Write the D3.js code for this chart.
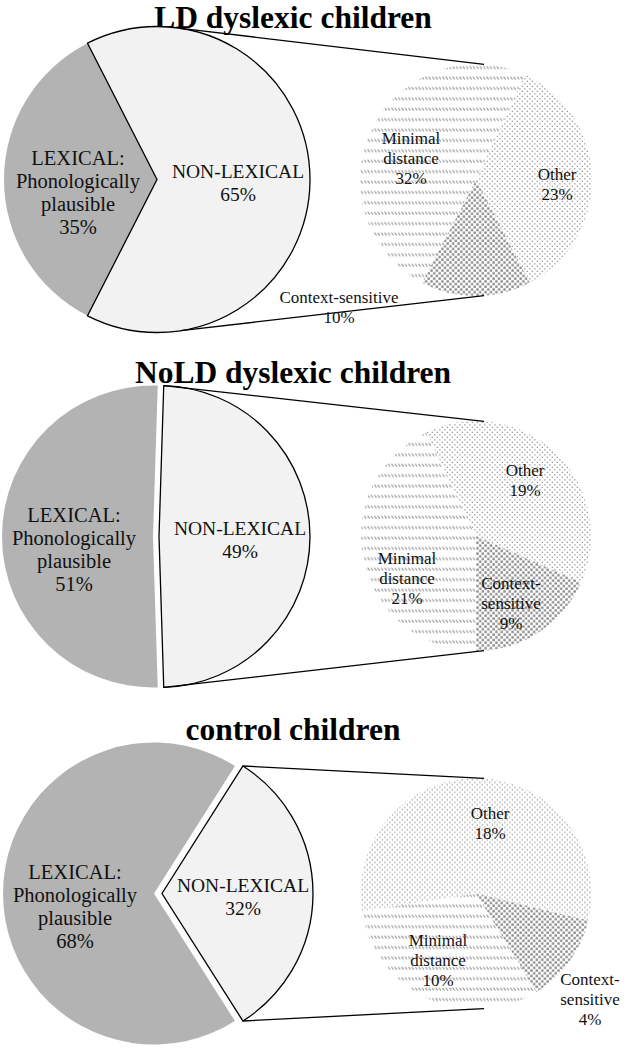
<!DOCTYPE html>
<html><head><meta charset="utf-8">
<script src="https://cdn.jsdelivr.net/npm/d3@7"></script>
<style>body{margin:0;background:#fff} svg{display:block}</style>
</head><body>
<svg id="chart" width="630" height="1048"></svg>
<script>
// ---------------- data ----------------
const groups = ["LD dyslexic children", "NoLD dyslexic children", "control children"];
const nonLexicalLabel = "NON-LEXICAL";
const lexicalLabel = ["LEXICAL:", "Phonologically", "plausible"];
const nonLexical = [65, 49, 32];
const lexical = [35, 51, 68];
const subCategories = ["Other", "Context-sensitive", "Minimal distance"];
const otherVals = [23, 19, 18];
const contextVals = [10, 9, 4];
const minimalVals = [32, 21, 10];

// ---------------- layout (positions only) ----------------
const panels = [
  {titleY: 28, big: {cx: 157, cy: 179.5, r: 153, explode: 0, conn: [9, 171]},
   small: {cx: 476, cy: 180, r: 116, start: 25},
   lab: {md: [-65, -42], other: [81, -6], cs: [-137, 117]}, csWrap: false},
  {titleY: 383, big: {cx: 153, cy: 536.5, r: 151, explode: 6, conn: null},
   small: {cx: 476, cy: 536, r: 115, start: -25.7},
   lab: {md: [-69, 22], other: [49, -66], cs: [35, 47]}, csWrap: true},
  {titleY: 740, big: {cx: 154, cy: 893.5, r: 151, explode: 8, conn: null},
   small: {cx: 476, cy: 893.5, r: 115.5, start: -99},
   lab: {md: [-38, 47], other: [14, -80], cs: [114, 86]}, csWrap: true}
];

const svg = d3.select("#chart");
const FONT = "'Liberation Serif', 'Times New Roman', serif";
const rad = d => d * Math.PI / 180;

// ---------------- patterns ----------------
const defs = svg.append("defs");
const pOther = defs.append("pattern").attr("id", "pOther").attr("patternUnits", "userSpaceOnUse")
  .attr("width", 5).attr("height", 5);
pOther.append("rect").attr("width", 5).attr("height", 5).attr("fill", "#fff");
pOther.append("rect").attr("x", 0.7).attr("y", 0.7).attr("width", 1.3).attr("height", 1.3).attr("fill", "#999");
pOther.append("rect").attr("x", 3.2).attr("y", 3.2).attr("width", 1.3).attr("height", 1.3).attr("fill", "#999");

const pCS = defs.append("pattern").attr("id", "pCS").attr("patternUnits", "userSpaceOnUse")
  .attr("width", 5.4).attr("height", 5.4);
pCS.append("rect").attr("width", 5.4).attr("height", 5.4).attr("fill", "#fff");
pCS.append("rect").attr("x", 0.3).attr("y", 0.3).attr("width", 2.3).attr("height", 2.3).attr("fill", "#858585");
pCS.append("rect").attr("x", 3.0).attr("y", 3.0).attr("width", 2.3).attr("height", 2.3).attr("fill", "#858585");

const pMD = defs.append("pattern").attr("id", "pMD").attr("patternUnits", "userSpaceOnUse")
  .attr("width", 3.4).attr("height", 10.4);
pMD.append("rect").attr("width", 3.4).attr("height", 10.4).attr("fill", "#fff");
pMD.append("path").attr("d", "M0.4,0.6 L2.4,3.4").attr("stroke", "#999").attr("stroke-width", 1.1).attr("fill", "none");

const subFills = ["url(#pOther)", "url(#pCS)", "url(#pMD)"];

// ---------------- drawing ----------------
function addLines(g, x, yCenters, lines, fs) {
  lines.forEach((t, k) => {
    g.append("text").attr("x", x).attr("y", yCenters[k] + fs * 0.33)
      .attr("text-anchor", "middle").attr("font-family", FONT).attr("font-size", fs)
      .attr("fill", "#111").text(t);
  });
}

groups.forEach((name, i) => {
  const L = panels[i];
  const g = svg.append("g");

  // title
  g.append("text").attr("x", 293).attr("y", L.titleY).attr("text-anchor", "middle")
    .attr("font-family", FONT).attr("font-weight", "bold").attr("font-size", 31.5)
    .attr("fill", "#000").text(name);

  // ---- big pie ----
  const B = L.big;
  const nl = nonLexical[i] / (nonLexical[i] + lexical[i]);
  const a0 = Math.PI / 2 - Math.PI * nl;
  const bigPie = d3.pie().sort(null).value(d => d.value).startAngle(a0).endAngle(a0 + 2 * Math.PI);
  const bigArcs = bigPie([{key: "non", value: nonLexical[i]}, {key: "lex", value: lexical[i]}]);
  const bigArc = d3.arc().innerRadius(0).outerRadius(B.r);

  g.append("path").attr("d", bigArc(bigArcs[1]))
    .attr("transform", `translate(${B.cx},${B.cy})`).attr("fill", "#b3b3b3");
  g.append("path").attr("d", bigArc(bigArcs[0]))
    .attr("transform", `translate(${B.cx + B.explode},${B.cy})`)
    .attr("fill", "#f2f2f2").attr("stroke", "#000").attr("stroke-width", 1.3).attr("stroke-linejoin", "miter");

  // ---- small pie ----
  const S = L.small;
  const s0 = rad(S.start);
  const smallPie = d3.pie().sort(null).value(d => d).startAngle(s0).endAngle(s0 + 2 * Math.PI);
  const smallArcs = smallPie([otherVals[i], contextVals[i], minimalVals[i]]);
  const smallArc = d3.arc().innerRadius(0).outerRadius(S.r);
  g.append("g").attr("transform", `translate(${S.cx},${S.cy})`)
    .selectAll("path").data(smallArcs).join("path")
    .attr("d", smallArc).attr("fill", (d, k) => subFills[k]);

  // ---- connector lines ----
  let cA, cB, offX = B.explode;
  if (B.conn) { cA = rad(B.conn[0]); cB = rad(B.conn[1]); }
  else { cA = bigArcs[0].startAngle; cB = bigArcs[0].endAngle; }
  const p = a => [B.cx + offX + B.r * Math.sin(a), B.cy - B.r * Math.cos(a)];
  const q = a => [S.cx + S.r * Math.sin(a), S.cy - S.r * Math.cos(a)];
  [[p(cA), q(rad(4))], [p(cB), q(rad(176))]].forEach(seg => {
    g.append("line").attr("x1", seg[0][0]).attr("y1", seg[0][1])
      .attr("x2", seg[1][0]).attr("y2", seg[1][1])
      .attr("stroke", "#000").attr("stroke-width", 1.3);
  });

  // ---- big pie labels ----
  addLines(g, B.cx - 79, [-21, 2, 25, 48].map(d => B.cy + d),
    [...lexicalLabel, lexical[i] + "%"], 20.5);
  addLines(g, B.cx + B.explode + 81, [-8, 15].map(d => B.cy + d),
    [nonLexicalLabel, nonLexical[i] + "%"], 19.5);

  // ---- small pie labels ----
  const fs = 17, lh = 20;
  const mdLines = ["Minimal", "distance", minimalVals[i] + "%"];
  const otLines = [subCategories[0], otherVals[i] + "%"];
  const csLines = L.csWrap ? ["Context-", "sensitive", contextVals[i] + "%"]
                           : [subCategories[1], contextVals[i] + "%"];
  const place = (off, lines) => addLines(g, S.cx + off[0],
    lines.map((_, k) => S.cy + off[1] + k * lh), lines, fs);
  place(L.lab.md, mdLines);
  place(L.lab.other, otLines);
  place(L.lab.cs, csLines);
});
</script>
</body></html>
